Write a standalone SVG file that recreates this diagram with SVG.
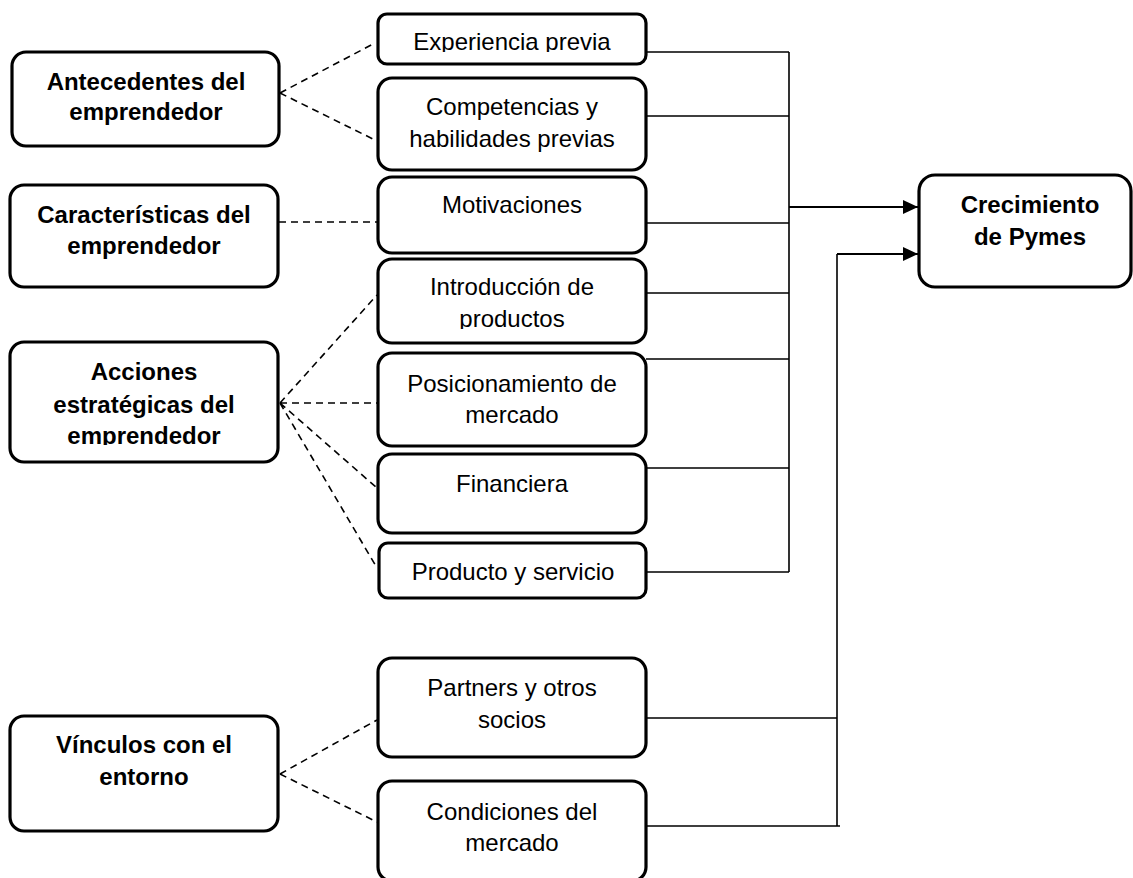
<svg xmlns="http://www.w3.org/2000/svg" width="1133" height="878" viewBox="0 0 1133 878">
  <defs>
    <style>
      .box { fill: #ffffff; stroke: #000000; stroke-width: 3.2; }
      .t { font-family: "Liberation Sans", Arial, sans-serif; font-size: 24px; fill: #000000; text-anchor: middle; }
      .b { font-weight: bold; }
      .dash { fill: none; stroke: #000000; stroke-width: 1.6; stroke-dasharray: 7 5; }
      .link { fill: none; stroke: #000000; stroke-width: 1.6; }
      .main { fill: none; stroke: #000000; stroke-width: 2.2; }
    </style>
    <marker id="arrow" markerWidth="15" markerHeight="14" refX="15" refY="7" orient="auto" markerUnits="userSpaceOnUse">
      <path d="M0,0 L15,7 L0,14 Z" fill="#000000"/>
    </marker>
    <clipPath id="clipExp"><rect x="377" y="14" width="270" height="38"/></clipPath>
    <clipPath id="clipIntro"><rect x="377" y="259" width="270" height="70"/></clipPath>
    <clipPath id="clipAcc"><rect x="10" y="342" width="270" height="103"/></clipPath>
  </defs>

  <!-- connectors -->
  <g id="connectors">
    <!-- dashed links from the categories to their factors -->
    <path class="dash" d="M280,93 L375,43 M280,93 L375,140"/>
    <path class="dash" d="M279,222 L377,222"/>
    <path class="dash" d="M280,403 L377,295 M280,403 L377,403 M280,403 L377,488 M280,403 L377,568"/>
    <path class="dash" d="M280,774 L377,720 M280,774 L377,822"/>

    <!-- first bus: factors of the entrepreneur -->
    <path class="link" d="M646,52 H789 M646,116 H789 M646,223 H789 M646,293 H789 M646,359 H789 M646,468 H789 M646,572 H789 M789,52 V572"/>
    <path class="main" d="M789,207 H918" marker-end="url(#arrow)"/>

    <!-- second bus: links with the environment -->
    <path class="link" d="M646,718 H837 M646,826 H840 M837,826 V254"/>
    <path class="main" d="M837,254 H918" marker-end="url(#arrow)"/>
  </g>

  <!-- categories -->
  <g id="antecedentes">
    <rect class="box" x="12" y="52" width="267" height="94" rx="14"/>
    <text class="t b" x="146" y="90">Antecedentes del</text>
    <text class="t b" x="146" y="120">emprendedor</text>
  </g>
  <g id="caracteristicas">
    <rect class="box" x="10" y="185" width="268" height="102" rx="14"/>
    <text class="t b" x="144" y="223">Características del</text>
    <text class="t b" x="144" y="254">emprendedor</text>
  </g>
  <g id="acciones">
    <rect class="box" x="10" y="342" width="268" height="120" rx="14"/>
    <g clip-path="url(#clipAcc)">
      <text class="t b" x="144" y="380">Acciones</text>
      <text class="t b" x="144" y="413">estratégicas del</text>
      <text class="t b" x="144" y="444">emprendedor</text>
    </g>
  </g>
  <g id="vinculos">
    <rect class="box" x="10" y="716" width="268" height="115" rx="14"/>
    <text class="t b" x="144" y="753">Vínculos con el</text>
    <text class="t b" x="144" y="785">entorno</text>
  </g>

  <!-- factors -->
  <g id="experiencia">
    <rect class="box" x="378" y="14" width="268" height="50" rx="9"/>
    <text class="t" x="512" y="50" clip-path="url(#clipExp)">Experiencia previa</text>
  </g>
  <g id="competencias">
    <rect class="box" x="378" y="78" width="268" height="92" rx="14"/>
    <text class="t" x="512" y="115">Competencias y</text>
    <text class="t" x="512" y="147">habilidades previas</text>
  </g>
  <g id="motivaciones">
    <rect class="box" x="378" y="177" width="268" height="76" rx="14"/>
    <text class="t" x="512" y="213">Motivaciones</text>
  </g>
  <g id="introduccion">
    <rect class="box" x="378" y="259" width="268" height="84" rx="14"/>
    <g clip-path="url(#clipIntro)">
      <text class="t" x="512" y="295">Introducción de</text>
      <text class="t" x="512" y="327">productos</text>
    </g>
  </g>
  <g id="posicionamiento">
    <rect class="box" x="378" y="353" width="268" height="93" rx="14"/>
    <text class="t" x="512" y="392">Posicionamiento de</text>
    <text class="t" x="512" y="423">mercado</text>
  </g>
  <g id="financiera">
    <rect class="box" x="378" y="454" width="268" height="79" rx="14"/>
    <text class="t" x="512" y="492">Financiera</text>
  </g>
  <g id="producto">
    <rect class="box" x="379" y="543" width="267" height="55" rx="9"/>
    <text class="t" x="513" y="580">Producto y servicio</text>
  </g>
  <g id="partners">
    <rect class="box" x="378" y="658" width="268" height="99" rx="14"/>
    <text class="t" x="512" y="696">Partners y otros</text>
    <text class="t" x="512" y="728">socios</text>
  </g>
  <g id="condiciones">
    <rect class="box" x="378" y="781" width="268" height="100" rx="14"/>
    <text class="t" x="512" y="820">Condiciones del</text>
    <text class="t" x="512" y="851">mercado</text>
  </g>

  <!-- outcome -->
  <g id="crecimiento">
    <rect class="box" x="919" y="175" width="212" height="112" rx="16"/>
    <text class="t b" x="1030" y="213">Crecimiento</text>
    <text class="t b" x="1030" y="245">de Pymes</text>
  </g>
</svg>
